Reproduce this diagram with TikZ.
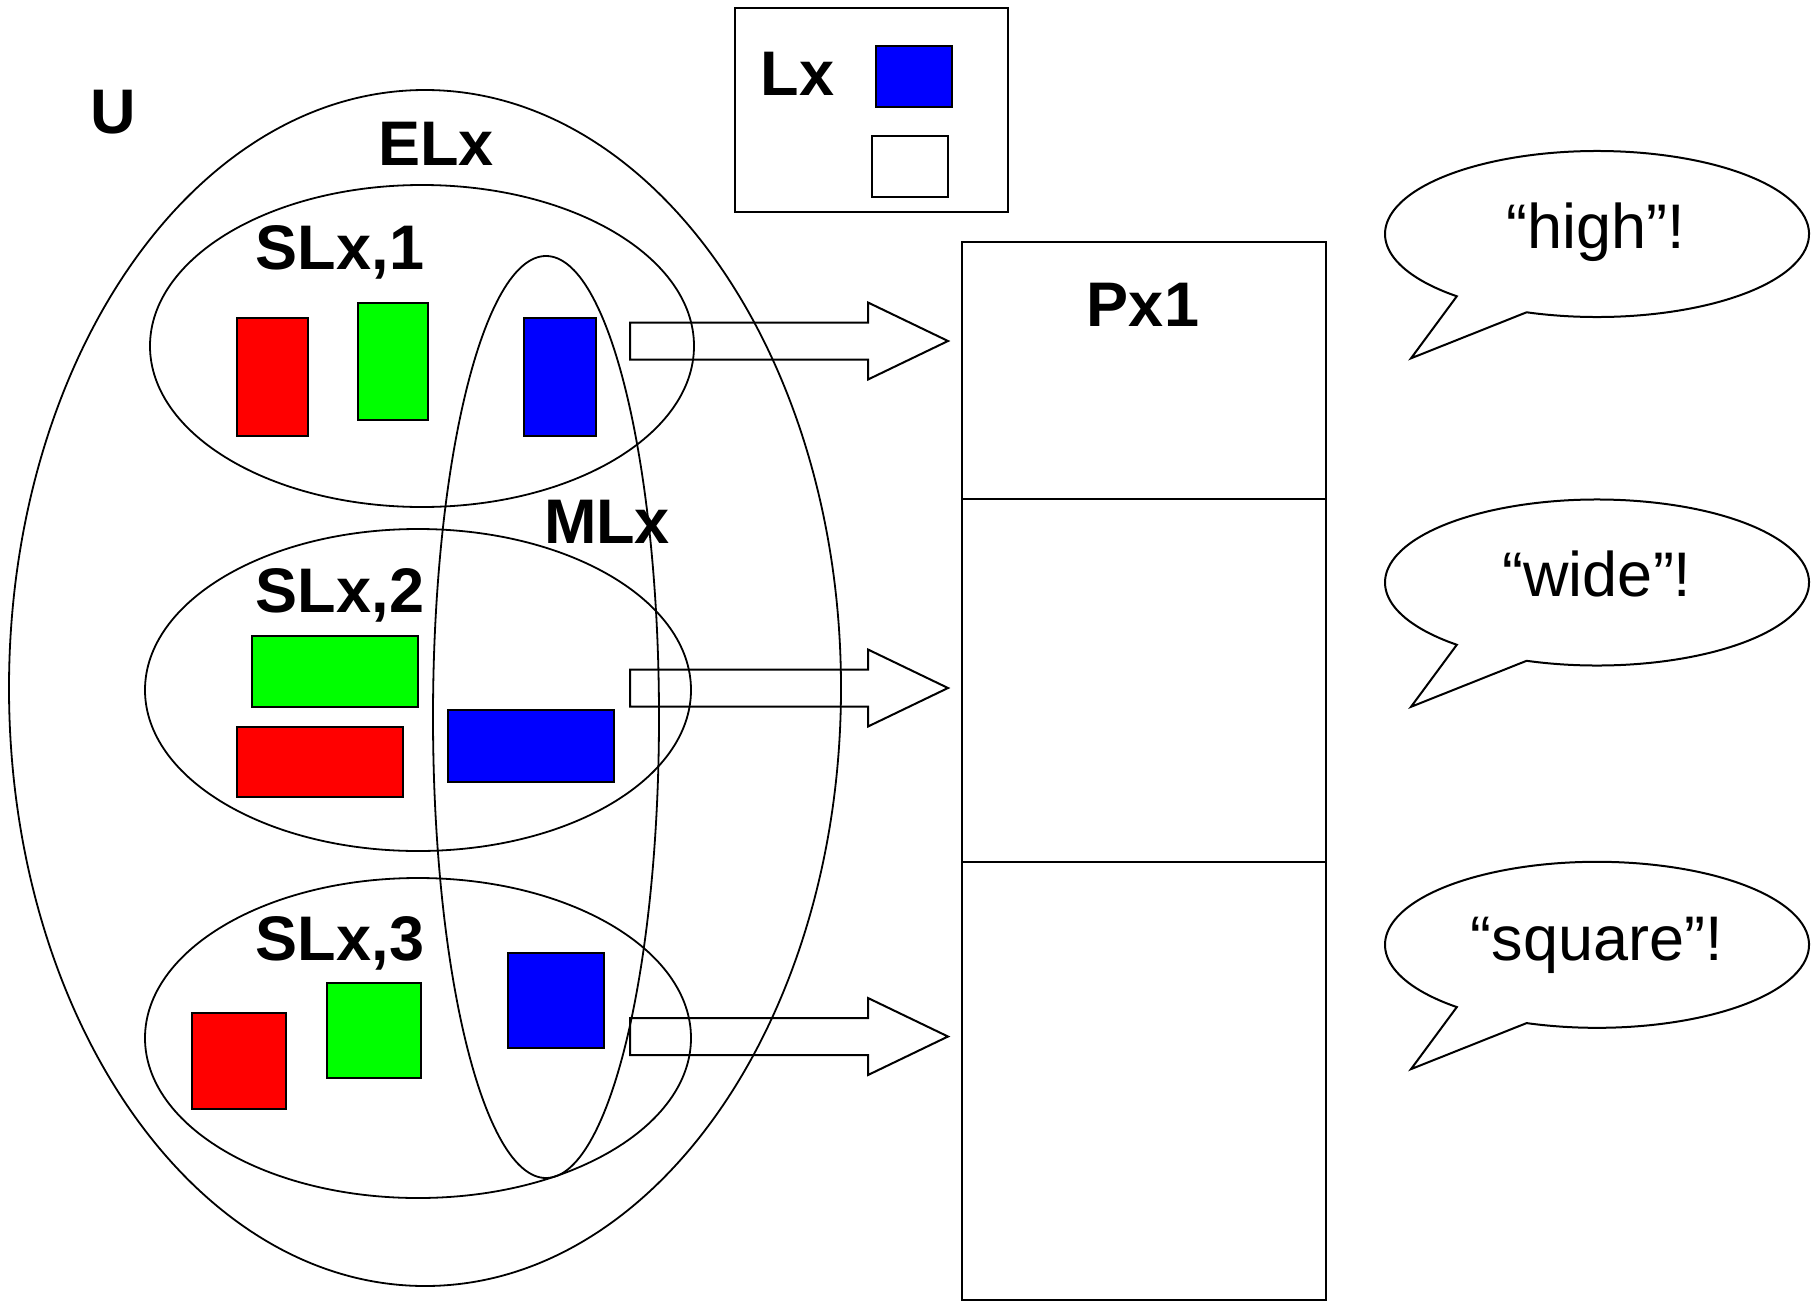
\documentclass[tikz,border=0pt]{standalone}
\usepackage{fontspec}
\setmainfont{Liberation Sans}
\begin{document}
\begin{tikzpicture}[x=1pt,y=-1pt,line width=2pt,
  lbl/.style={font=\fontsize{63}{70}\selectfont\bfseries,anchor=base,inner sep=0pt},
  qt/.style={font=\fontsize{63}{70}\selectfont,anchor=base,inner sep=0pt},
  setline/.style={draw=black,line width=1.8pt},
  block/.style={draw=black,line width=2pt},
  blockarrow/.style={draw=black,line width=2pt,line join=miter},
  bubble/.style={draw=black,fill=white,line width=2pt,line join=miter}]
\useasboundingbox (0,0) rectangle (1820,1301);

% sets
\draw[setline] (425,688) ellipse [x radius=416, y radius=598];
\draw[setline] (422,346) ellipse [x radius=272, y radius=161];
\draw[setline] (418,690) ellipse [x radius=273, y radius=161];
\draw[setline] (418,1038) ellipse [x radius=273, y radius=160];
\draw[setline] (546,717) ellipse [x radius=113, y radius=461];

% labels
\node[lbl] (U) at (113,133) {U};
\node[lbl] (EL) at (436,165) {ELx};
\node[lbl] (SL1) at (340,269) {SLx,1};
\node[lbl] (SL2) at (340,612) {SLx,2};
\node[lbl] (SL3) at (340,960) {SLx,3};
\node[lbl] (ML) at (607,543) {MLx};

% SLx,1 items
\draw[block,fill=red] (237,318) rectangle (308,436);
\draw[block,fill=green] (357.5,303) rectangle (428,420);
\draw[block,fill=blue] (523.5,318) rectangle (595.5,436);
% SLx,2 items
\draw[block,fill=green] (252,636) rectangle (418,707);
\draw[block,fill=red] (237,727) rectangle (403,797);
\draw[block,fill=blue] (448,710) rectangle (614,782);
% SLx,3 items
\draw[block,fill=red] (191.5,1013) rectangle (285.5,1108.5);
\draw[block,fill=green] (327,983) rectangle (421,1078);
\draw[block,fill=blue] (508,953) rectangle (603.5,1048);

% legend
\draw[block] (735,8) rectangle (1008,212);
\node[lbl] (LX) at (797.5,95) {Lx};
\draw[block,fill=blue] (875.5,45.5) rectangle (952,107);
\draw[block,fill=white] (872,136) rectangle (947.5,197);

% Px1 column
\draw[block] (962,241.5) rectangle (1325.5,1300);
\draw[block] (962,499) -- (1325.5,499);
\draw[block] (962,862) -- (1325.5,862);
\node[lbl] (PX) at (1143,326) {Px1};

% block arrows
\foreach \cy in {341,688,1036.5}{
  \draw[blockarrow] (630,\cy-18.5) -- (868,\cy-18.5) -- (868,\cy-38.5)
     -- (948,\cy) -- (868,\cy+38.5) -- (868,\cy+18.5) -- (630,\cy+18.5) -- cycle;
}

% speech bubbles
\foreach \cy in {234,582.5,944.8}{
  \begin{scope}[shift={(1597,\cy)}]
    \draw[bubble] (109.4:212 and 83) arc[start angle=109.4, end angle=-228.6, x radius=212, y radius=83]
       -- (-186,124.3) -- cycle;
  \end{scope}
}
\node[qt] (Q1) at (1596,248.3) {“high”!};
\node[qt] (Q2) at (1597,596.5) {“wide”!};
\node[qt] (Q3) at (1597,960) {“square”!};
\end{tikzpicture}
\end{document}
